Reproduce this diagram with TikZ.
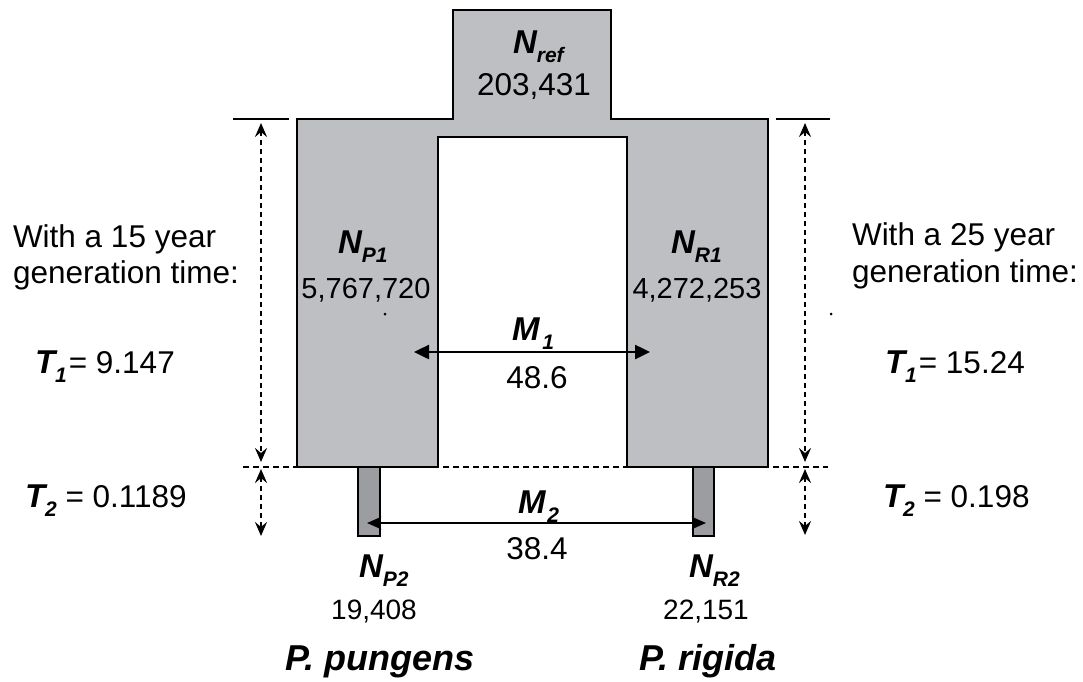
\documentclass[tikz,border=0pt]{standalone}
\usepackage{fontspec}
\setmainfont{Liberation Sans}
\usetikzlibrary{arrows.meta}
\definecolor{popgray}{RGB}{190,191,194}
\definecolor{stubgray}{RGB}{156,157,160}
\newcommand\fsz[1]{\fontsize{#1}{#1}\selectfont}
\newcommand\bsub[1]{\raisebox{-0.3em}{\fsz{21}\bfseries\itshape #1}}
\newcommand\bvar[1]{{\fsz{33}\bfseries\itshape #1}}
\begin{document}
\begin{tikzpicture}[x=1pt,y=-1pt,
  popbox/.style={fill=popgray,draw=black,line width=2.5pt,line join=miter},
  stubbox/.style={fill=stubgray,draw=black,line width=2.5pt},
  hdash/.style={draw=black,line width=2.4pt,dash pattern=on 6pt off 4pt},
  tickline/.style={draw=black,line width=2.5pt},
  dimarrow/.style={draw=black,line width=2.4pt,dash pattern=on 5pt off 4pt,
    {Stealth[length=14pt,width=12pt,inset=5pt]}-{Stealth[length=14pt,width=12pt,inset=5pt]}},
  marrowA/.style={draw=black,line width=2.5pt,
    {Triangle[length=15pt,width=14pt]}-{Triangle[length=15pt,width=14pt]}},
  marrowB/.style={draw=black,line width=2.5pt,
    {Stealth[length=14pt,width=12pt,inset=2pt]}-{Stealth[length=14pt,width=12pt,inset=2pt]}},
  lbl/.style={inner sep=0pt,outer sep=0pt,font=\fsz{31.5}},
  small/.style={inner sep=0pt,outer sep=0pt,font=\fsz{28}},
  big/.style={inner sep=0pt,outer sep=0pt,font=\fsz{36}\bfseries\itshape}]
\useasboundingbox (0,0) rectangle (1083,681);

% dashed horizontal (time boundary)
\coordinate (dl) at (243,467);
\coordinate (dr) at (828,467);
\draw[hdash] (dl) -- (dr);

% stubs (present-day populations)
\draw[stubbox] (358,467) rectangle (380,536);
\draw[stubbox] (693,467) rectangle (714,536);

% ancestral + diverged populations
\draw[popbox] (297,119) -- (453,119) -- (453,10) -- (611,10) -- (611,119)
  -- (768,119) -- (768,467) -- (627,467) -- (627,137) -- (438,137)
  -- (438,467) -- (297,467) -- cycle;

% ticks
\coordinate (tl1) at (233,119); \coordinate (tl2) at (289,119);
\coordinate (tr1) at (776,119); \coordinate (tr2) at (830,119);
\draw[tickline] (tl1) -- (tl2);
\draw[tickline] (tr1) -- (tr2);

% dimension arrows
\coordinate (la1) at (261,123); \coordinate (la2) at (261,462);
\coordinate (la3) at (261,469); \coordinate (la4) at (261,536);
\coordinate (ra1) at (805,123); \coordinate (ra2) at (805,462);
\coordinate (ra3) at (805,469); \coordinate (ra4) at (805,535);
\draw[dimarrow] (la1) -- (la2);
\draw[dimarrow] (la3) -- (la4);
\draw[dimarrow] (ra1) -- (ra2);
\draw[dimarrow] (ra3) -- (ra4);

% migration arrows
\coordinate (m1l) at (414,352); \coordinate (m1r) at (650,352);
\coordinate (m2l) at (367,523); \coordinate (m2r) at (706,523);
\draw[marrowA] (m1l) -- (m1r);
\draw[marrowB] (m2l) -- (m2r);

% tiny dots
\fill (385,314) circle (1.5pt);
\fill (831,314) circle (1.5pt);

% labels in the diagram
\node[lbl,anchor=base west] (nref) at (513,53) {\bvar{N}\bsub{ref}};
\node[lbl,anchor=base] (nrefv) at (534,95) {203,431};
\node[lbl,anchor=base west] (np1) at (338,253) {\bvar{N}\bsub{P1}};
\node[lbl,anchor=base,font=\fsz{29}] (np1v) at (366,298) {5,767,720};
\node[lbl,anchor=base west] (nr1) at (671,253) {\bvar{N}\bsub{R1}};
\node[lbl,anchor=base,font=\fsz{29}] (nr1v) at (697,298) {4,272,253};
\node[lbl,anchor=base west] (m1) at (512,340) {\bvar{M}\kern3pt\bsub{1}};
\node[lbl,anchor=base] (m1v) at (537,388) {48.6};
\node[lbl,anchor=base west] (m2) at (518,513) {\bvar{M}\kern2pt\bsub{2}};
\node[lbl,anchor=base] (m2v) at (537,559) {38.4};
\node[lbl,anchor=base west] (np2) at (359,577) {\bvar{N}\bsub{P2}};
\node[small,anchor=base] (np2v) at (374,619) {19,408};
\node[lbl,anchor=base west] (nr2) at (689,577) {\bvar{N}\bsub{R2}};
\node[small,anchor=base] (nr2v) at (706,619) {22,151};
\node[big,anchor=base] (pp) at (380,670) {P. pungens};
\node[big,anchor=base] (pr) at (708,670) {P. rigida};

% side annotations
\node[lbl,anchor=base west] (lw1) at (13,247) {With a 15 year};
\node[lbl,anchor=base west] (lw2) at (13,283) {generation time:};
\node[lbl,anchor=base west] (lt1) at (35,373) {\bvar{T}\bsub{1}\kern2pt= 9.147};
\node[lbl,anchor=base west] (lt2) at (25,507) {\bvar{T}\bsub{2} = 0.1189};
\node[lbl,anchor=base west] (rw1) at (852,245) {With a 25 year};
\node[lbl,anchor=base west] (rw2) at (852,282) {generation time:};
\node[lbl,anchor=base west] (rt1) at (885,373) {\bvar{T}\bsub{1}\kern2pt= 15.24};
\node[lbl,anchor=base west] (rt2) at (883,507) {\bvar{T}\bsub{2} = 0.198};
\end{tikzpicture}
\end{document}
